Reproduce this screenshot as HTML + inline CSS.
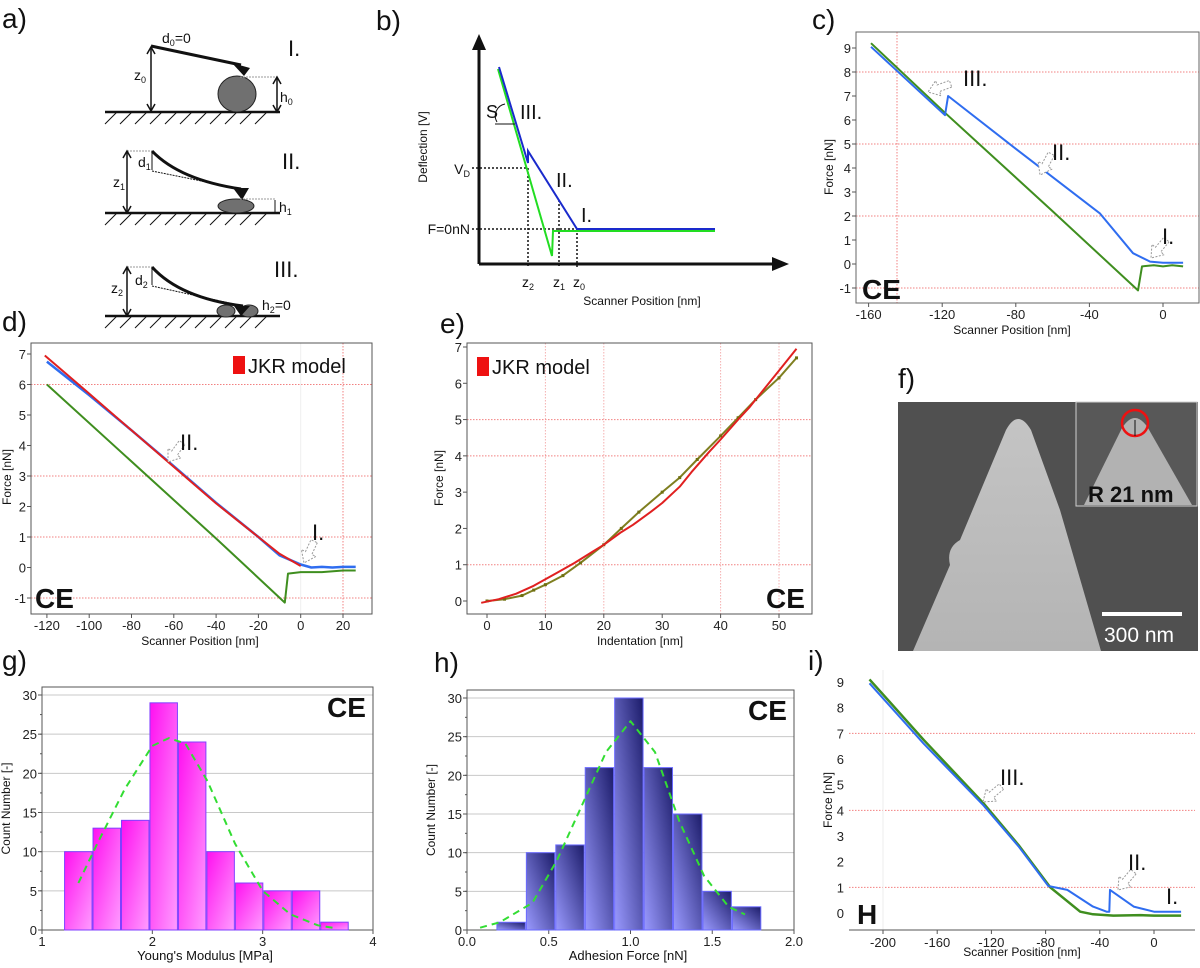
<!DOCTYPE html>
<html><head><meta charset="utf-8"><style>
html,body{margin:0;padding:0;background:#fff;}
svg{display:block;font-family:"Liberation Sans",Arial,sans-serif;}
</style></head><body>
<svg id="fig" width="1200" height="968" viewBox="0 0 1200 968" xmlns="http://www.w3.org/2000/svg">
<defs>
<linearGradient id="gMag" x1="0" y1="0" x2="1" y2="1"><stop offset="0" stop-color="#ff10f0"/><stop offset="1" stop-color="#ff9cff"/></linearGradient>
<linearGradient id="gBlu" x1="0" y1="1" x2="1" y2="0"><stop offset="0" stop-color="#9a9aff"/><stop offset="1" stop-color="#1c1c6a"/></linearGradient>
<linearGradient id="gSem" x1="0" y1="0" x2="0" y2="1"><stop offset="0" stop-color="#c4c4c4"/><stop offset="1" stop-color="#b4b4b4"/></linearGradient>
</defs>
<g font-size="28" fill="#111">
<text x="2" y="28">a)</text>
<text x="376" y="30">b)</text>
<text x="812" y="29">c)</text>
<text x="2" y="331">d)</text>
<text x="440" y="333">e)</text>
<text x="898" y="388">f)</text>
<text x="2" y="670">g)</text>
<text x="434" y="672">h)</text>
<text x="808" y="670">i)</text>
</g>

<!-- Panel a -->
<g id="panelA" stroke="#111" fill="none">
<g>
<line x1="105" y1="112" x2="280" y2="112" stroke-width="2.5"/>
<path d="M105,124 l12,-12 M120,124 l12,-12 M135,124 l12,-12 M150,124 l12,-12 M165,124 l12,-12 M180,124 l12,-12 M195,124 l12,-12 M210,124 l12,-12 M225,124 l12,-12 M240,124 l12,-12 M255,124 l12,-12" stroke-width="1"/>
<line x1="151" y1="46" x2="241" y2="65" stroke-width="3"/>
<polygon points="232,63 250,68 244,76" fill="#111" stroke="none"/>
<ellipse cx="237" cy="94" rx="19" ry="18" fill="#707070" stroke="#222" stroke-width="1"/>
<line x1="151" y1="48" x2="151" y2="110" stroke-width="1.5"/>
<path d="M147,54 L151,47 L155,54 M147,104 L151,111 L155,104" stroke-width="1.5"/>
<line x1="240" y1="77" x2="277" y2="77" stroke="#999" stroke-dasharray="2,1"/>
<line x1="277" y1="78" x2="277" y2="111" stroke-width="1.5"/>
<path d="M273,84 L277,77 L281,84 M273,105 L277,112 L281,105" stroke-width="1.5"/>
</g>
<g>
<line x1="105" y1="213" x2="280" y2="213" stroke-width="2.5"/>
<path d="M105,225 l12,-12 M120,225 l12,-12 M135,225 l12,-12 M150,225 l12,-12 M165,225 l12,-12 M180,225 l12,-12 M195,225 l12,-12 M210,225 l12,-12 M225,225 l12,-12 M240,225 l12,-12 M255,225 l12,-12" stroke-width="1"/>
<path d="M152,151 Q180,180 241,189" stroke-width="3"/>
<line x1="152" y1="171" x2="241" y2="189" stroke-dasharray="2,1" stroke-width="1"/>
<line x1="127" y1="151" x2="152" y2="151" stroke="#999" stroke-dasharray="2,1"/>
<polygon points="233,188 249,188 242,200" fill="#111" stroke="none"/>
<ellipse cx="236" cy="206" rx="18" ry="7" fill="#707070" stroke="#222" stroke-width="1"/>
<line x1="127" y1="152" x2="127" y2="212" stroke-width="1.5"/>
<path d="M123,158 L127,151 L131,158 M123,206 L127,213 L131,206" stroke-width="1.5"/>
<line x1="152" y1="152" x2="152" y2="170" stroke-width="1"/>
<line x1="240" y1="199" x2="275" y2="199" stroke="#999" stroke-dasharray="2,1"/>
<line x1="275" y1="200" x2="275" y2="212" stroke-width="1"/>
</g>
<g>
<line x1="105" y1="316" x2="280" y2="316" stroke-width="2.5"/>
<path d="M105,328 l12,-12 M120,328 l12,-12 M135,328 l12,-12 M150,328 l12,-12 M165,328 l12,-12 M180,328 l12,-12 M195,328 l12,-12 M210,328 l12,-12 M225,328 l12,-12 M240,328 l12,-12 M255,328 l12,-12" stroke-width="1"/>
<path d="M152,267 Q180,298 243,306" stroke-width="3"/>
<line x1="152" y1="286" x2="243" y2="306" stroke-dasharray="2,1" stroke-width="1"/>
<line x1="127" y1="267" x2="152" y2="267" stroke="#999" stroke-dasharray="2,1"/>
<ellipse cx="226" cy="311" rx="9" ry="6" fill="#707070" stroke="#222" stroke-width="1"/>
<ellipse cx="249" cy="311" rx="9" ry="6" fill="#707070" stroke="#222" stroke-width="1"/>
<polygon points="234,306 250,306 241,316" fill="#111" stroke="none"/>
<line x1="127" y1="268" x2="127" y2="315" stroke-width="1.5"/>
<path d="M123,274 L127,267 L131,274 M123,309 L127,316 L131,309" stroke-width="1.5"/>
<line x1="152" y1="268" x2="152" y2="285" stroke-width="1"/>
</g>
<g fill="#111" stroke="none" font-size="14">
<text x="162" y="43">d<tspan font-size="9" dy="3">0</tspan><tspan dy="-3">=0</tspan></text>
<text x="134" y="80">z<tspan font-size="9" dy="3">0</tspan></text>
<text x="280" y="102">h<tspan font-size="9" dy="3">0</tspan></text>
<text x="138" y="167">d<tspan font-size="9" dy="3">1</tspan></text>
<text x="113" y="187">z<tspan font-size="9" dy="3">1</tspan></text>
<text x="279" y="212">h<tspan font-size="9" dy="3">1</tspan></text>
<text x="135" y="285">d<tspan font-size="9" dy="3">2</tspan></text>
<text x="111" y="293">z<tspan font-size="9" dy="3">2</tspan></text>
<text x="262" y="310">h<tspan font-size="9" dy="3">2</tspan><tspan dy="-3">=0</tspan></text>
<text x="288" y="56" font-size="22">I.</text>
<text x="282" y="169" font-size="22">II.</text>
<text x="274" y="277" font-size="22">III.</text>
</g>
</g>

<!-- Panel b -->
<g id="panelB">
<line x1="479" y1="264" x2="479" y2="44" stroke="#111" stroke-width="3"/>
<polygon points="472,50 479,34 486,50" fill="#111"/>
<line x1="479" y1="264" x2="778" y2="264" stroke="#111" stroke-width="3"/>
<polygon points="772,257 789,264 772,271" fill="#111"/>
<g stroke="#111" stroke-width="1.5" stroke-dasharray="2,2" fill="none">
<line x1="472" y1="168" x2="528" y2="168"/><line x1="472" y1="229" x2="577" y2="229"/>
<line x1="528" y1="168" x2="528" y2="268"/><line x1="559" y1="200" x2="559" y2="268"/><line x1="577" y1="229" x2="577" y2="268"/>
</g>
<polyline points="498,69 552,256 553,231 715,231" fill="none" stroke="#22dd22" stroke-width="2"/>
<polyline points="499,67 528,163 528,151 577,229 715,229" fill="none" stroke="#1a2acc" stroke-width="2"/>
<path d="M505,104 A12,12 0 0 0 497,122 M495,124 L515,124" fill="none" stroke="#111" stroke-width="1"/>
<g fill="#111" font-size="14">
<text x="427" y="147" transform="rotate(-90 427 147)" text-anchor="middle" font-size="12">Deflection [V]</text>
<text x="642" y="305" text-anchor="middle" font-size="12">Scanner Position [nm]</text>
<text x="470" y="174" text-anchor="end">V<tspan font-size="9" dy="3">D</tspan></text>
<text x="470" y="234" text-anchor="end">F=0nN</text>
<text x="522" y="287">z<tspan font-size="9" dy="3">2</tspan></text>
<text x="553" y="287">z<tspan font-size="9" dy="3">1</tspan></text>
<text x="573" y="287">z<tspan font-size="9" dy="3">0</tspan></text>
<text x="486" y="118" font-size="18">S</text>
<text x="520" y="119" font-size="20">III.</text>
<text x="556" y="187" font-size="20">II.</text>
<text x="581" y="222" font-size="20">I.</text>
</g>
</g>

<!-- Panel f -->
<g id="panelF">
<rect x="898" y="402" width="300" height="249" fill="#505050"/>
<path d="M913,651 L950,565 Q946,548 960,540 L1006,430 Q1018,408 1031,430 L1060,510 L1101,651 Z" fill="url(#gSem)"/>
<rect x="1076" y="402" width="121" height="104" fill="#585858" stroke="#cfcfcf" stroke-width="1"/>
<path d="M1084,505 L1122,428 Q1135,408 1148,428 L1192,505 Z" fill="#b2b2b2"/>
<circle cx="1135" cy="423" r="13" fill="none" stroke="#ee1111" stroke-width="2.5"/>
<line x1="1135" y1="420" x2="1135" y2="436" stroke="#111" stroke-width="1"/>
<text x="1088" y="502" font-size="22" font-weight="bold" fill="#111">R 21 nm</text>
<rect x="1102" y="612" width="80" height="4" fill="#fff"/>
<text x="1104" y="642" font-size="21" fill="#fff">300 nm</text>
</g>

<g id="charts"></g>
</svg>
<script>
// ---------- data ----------
const cGreenX=[-158.7,-118.5,-60,-13.6,-11.4,-5,0,5,10.9];
const cGreenY=[9.2,6.3,2.2,-1.1,-0.1,-0.05,-0.1,-0.05,-0.1];
const cBlueX=[-158.7,-118.5,-116.8,-80,-34.2,-16.3,-7,0,5,10.9];
const cBlueY=[9.05,6.2,7.0,4.8,2.1,0.45,0.1,0.05,0.05,0.05];
const cTicksX=[-160,-120,-80,-40,0];
const cTicksY=[-1,0,1,2,3,4,5,6,7,8,9];

const dRedX=[-121,-100,-80,-60,-40,-20,-10,0];
const dRedY=[6.95,5.7,4.5,3.3,2.1,1.0,0.45,0.05];
const dBlueX=[-120,-100,-80,-60,-40,-20,-10,0,5,10,15,20,26];
const dBlueY=[6.75,5.65,4.5,3.32,2.12,1.0,0.4,0.1,0.0,0.02,0.0,0.02,0.02];
const dGreenX=[-120,-40,-7.5,-6,0,10,20,26];
const dGreenY=[6.0,0.95,-1.15,-0.2,-0.15,-0.15,-0.1,-0.1];
const dTicksX=[-120,-100,-80,-60,-40,-20,0,20];
const dTicksY=[-1,0,1,2,3,4,5,6,7];

const eFitX=[-1,2,5,8,10,12,15,18,20,23,25,28,30,33,35,38,40,43,45,48,50,53];
const eFitY=[-0.05,0.05,0.2,0.42,0.6,0.78,1.05,1.35,1.55,1.9,2.1,2.45,2.7,3.15,3.55,4.1,4.45,5.0,5.35,5.95,6.35,6.95];
const eDataX=[0,3,6,8,10,13,16,20,23,26,30,33,36,40,43,46,50,53];
const eDataY=[0,0.05,0.15,0.3,0.45,0.7,1.05,1.55,2.0,2.45,3.0,3.4,3.9,4.55,5.05,5.55,6.15,6.7];
const eTicksX=[0,10,20,30,40,50];
const eTicksY=[0,1,2,3,4,5,6,7];

const gEdges=[1.2,1.458,1.716,1.974,2.232,2.49,2.748,3.006,3.264,3.522,3.78];
const gCounts=[10,13,14,29,24,10,6,5,5,1];
const gFitX=[1.33,1.5,1.75,2.0,2.15,2.3,2.5,2.75,3.0,3.25,3.5,3.67];
const gFitY=[6,11,18,23.5,24.5,23.8,19,11,5,2,0.6,0.2];
const gTicksX=[1,2,3,4];
const gTicksY=[0,5,10,15,20,25,30];

const hEdges=[0.18,0.36,0.54,0.72,0.9,1.08,1.26,1.44,1.62,1.8];
const hCounts=[1,10,11,21,30,21,15,5,3];
const hFitX=[0.08,0.2,0.4,0.55,0.7,0.85,1.0,1.15,1.3,1.45,1.6,1.7];
const hFitY=[0.3,1,3.5,9,16,23,27,23,14,7,3,2];
const hTicksX=[0.0,0.5,1.0,1.5,2.0];
const hTicksY=[0,5,10,15,20,25,30];

const iGreenX=[-210,-170,-126,-100,-76.6,-54.5,-45,-30,-10,0,20];
const iGreenY=[9.1,6.75,4.28,2.65,1.0,0.05,-0.05,-0.1,-0.08,-0.1,-0.1];
const iBlueX=[-210,-170,-126,-100,-78,-64,-45,-35,-33,-32.5,-15,0,20];
const iBlueY=[8.95,6.6,4.2,2.6,1.05,0.9,0.25,0.05,0.05,0.9,0.25,0.05,0.05];
const iTicksX=[-200,-160,-120,-80,-40,0];
const iTicksY=[0,1,2,3,4,5,6,7,8,9];

// ---------- helpers ----------
const NS="http://www.w3.org/2000/svg";
const root=document.getElementById('charts');
function mk(parent,tag,attrs,txt){const e=document.createElementNS(NS,tag);for(const k in attrs)e.setAttribute(k,attrs[k]);if(txt!==undefined)e.textContent=txt;parent.appendChild(e);return e;}
function lin(d0,d1,r0,r1){return v=>r0+(v-d0)*(r1-r0)/(d1-d0);}
function pts(xs,ys,sx,sy){return xs.map((x,i)=>sx(x).toFixed(1)+','+sy(ys[i]).toFixed(1)).join(' ');}

function frame(g,name,L,T,R,B,sx,sy,tx,ty,opt){
  const box=mk(g,'rect',{x:L,y:T,width:R-L,height:B-T,fill:'none',stroke:opt.box||'#555','stroke-width':1});
  
  
  tx.forEach(v=>{
    const t=mk(g,'text',{x:sx(v),y:B+16,'text-anchor':'middle','font-size':13,fill:'#222'},String(opt.fx?opt.fx(v):v));
    
    
    mk(g,'line',{x1:sx(v),x2:sx(v),y1:B,y2:B+4,stroke:'#555'});
  });
  ty.forEach(v=>{
    const t=mk(g,'text',{x:L-5,y:sy(v)+5,'text-anchor':'end','font-size':13,fill:'#222'},String(v));
    
    
    mk(g,'line',{x1:L-4,x2:L,y1:sy(v),y2:sy(v),stroke:'#555'});
  });
}
function hgrid(g,vals,sy,L,R,col,dash){vals.forEach(v=>mk(g,'line',{x1:L,x2:R,y1:sy(v),y2:sy(v),stroke:col,'stroke-width':1,'stroke-dasharray':dash}));}
function vgrid(g,x,T,B,col,dash){mk(g,'line',{x1:x,x2:x,y1:T,y2:B,stroke:col,'stroke-width':1,'stroke-dasharray':dash});}
function txt(g,name,x,y,s,size,extra){const a=Object.assign({x:x,y:y,'font-size':size,fill:'#111'},extra||{});const t=mk(g,'text',a,s);return t;}
function callout(g,name,tx,ty,ang){
  const p=mk(g,'polygon',{points:'-24,-3.5 -11,-3.5 -11,-8 0,0 -11,8 -11,3.5 -24,3.5',fill:'#fff',stroke:'#999','stroke-width':1,'stroke-dasharray':'2,1.5',transform:`translate(${tx},${ty}) rotate(${ang})`});
  
  
}
function line(g,name,xs,ys,sx,sy,col,w){const p=mk(g,'polyline',{points:pts(xs,ys,sx,sy),fill:'none',stroke:col,'stroke-width':w,'stroke-linejoin':'round'});return p;}
const RED='#f28080', DASH='1.5,1.5';
const BLUE='#2f6df0', GREEN='#3f8e1f';

// ---------- panel c ----------
(function(){
  const g=mk(root,'g',{});
  
  
  const L=856,R=1199,T=32,B=303;
  const sx=lin(0,40,1163,1236.6), sy=lin(0,1,264,240);
  hgrid(g,[8,5,2,-1],sy,L,R,RED,DASH);
  vgrid(g,897,T,B,RED,DASH);
  frame(g,'c',L,T,R,B,sx,sy,cTicksX,cTicksY,{box:'#666'});
  line(g,'c-retract-curve',cGreenX,cGreenY,sx,sy,GREEN,2);
  line(g,'c-approach-curve',cBlueX,cBlueY,sx,sy,BLUE,2);
  callout(g,'c-arrow-3',928,92,160);
  callout(g,'c-arrow-2',1040,175,118);
  callout(g,'c-arrow-1',1151,258,130);
  txt(g,'c-stage-3',963,86,'III.',22);
  txt(g,'c-stage-2',1052,160,'II.',22);
  txt(g,'c-stage-1',1162,244,'I.',22);
  txt(g,'c-ce-label',862,299,'CE',28,{'font-weight':'bold'});
  txt(g,'c-y-axis-title',833,167,'Force [nN]',12,{transform:'rotate(-90 833 167)','text-anchor':'middle'});
  txt(g,'c-x-axis-title',1012,334,'Scanner Position [nm]',12,{'text-anchor':'middle'});
})();

// ---------- panel d ----------
(function(){
  const g=mk(root,'g',{});
  
  
  const L=31,R=372,T=343,B=614;
  const sx=lin(0,20,300.7,343), sy=lin(0,7,567.5,354);
  hgrid(g,[6,3,1,-1],sy,L,R,RED,DASH);
  vgrid(g,sx(20),T,B,RED,DASH);
  vgrid(g,sx(0),T,B,'#eee','');
  frame(g,'d',L,T,R,B,sx,sy,dTicksX,dTicksY,{});
  line(g,'d-retract-curve',dGreenX,dGreenY,sx,sy,GREEN,2);
  line(g,'d-approach-curve',dBlueX,dBlueY,sx,sy,BLUE,2.5);
  line(g,'d-jkr-fit',dRedX,dRedY,sx,sy,'#e02020',2);
  const lg=mk(g,'rect',{x:233,y:356,width:12,height:18,fill:'#ee1111'});
  
  
  txt(g,'d-legend-text',248,373,'JKR model',20);
  callout(g,'d-arrow-2',168,462,126);
  callout(g,'d-arrow-1',304,563,115);
  txt(g,'d-stage-2',180,450,'II.',22);
  txt(g,'d-stage-1',312,540,'I.',22);
  txt(g,'d-ce-label',35,608,'CE',28,{'font-weight':'bold'});
  txt(g,'d-y-axis-title',11,477,'Force [nN]',12,{transform:'rotate(-90 11 477)','text-anchor':'middle'});
  txt(g,'d-x-axis-title',200,645,'Scanner Position [nm]',12,{'text-anchor':'middle'});
})();

// ---------- panel e ----------
(function(){
  const g=mk(root,'g',{});
  
  
  const L=467,R=812,T=343,B=614;
  const sx=lin(0,50,487,779), sy=lin(0,7,601,347);
  hgrid(g,[1,4,5],sy,L,R,RED,DASH);
  [10,20,40,50].forEach(v=>vgrid(g,sx(v),T,B,'#f4b0b0',DASH));
  frame(g,'e',L,T,R,B,sx,sy,eTicksX,eTicksY,{});
  line(g,'e-data-line',eDataX,eDataY,sx,sy,'#7f7f20',2);
  eDataX.forEach((x,i)=>{
    const c=mk(g,'rect',{x:sx(x)-1.5,y:sy(eDataY[i])-1.5,width:3,height:3,fill:'#6f6f10'});
    
    
  });
  line(g,'e-jkr-fit',eFitX,eFitY,sx,sy,'#e02020',2);
  const lg=mk(g,'rect',{x:477,y:357,width:12,height:19,fill:'#ee1111'});
  
  
  txt(g,'e-legend-text',492,374,'JKR model',20);
  txt(g,'e-ce-label',766,608,'CE',28,{'font-weight':'bold'});
  txt(g,'e-y-axis-title',443,478,'Force [nN]',12,{transform:'rotate(-90 443 478)','text-anchor':'middle'});
  txt(g,'e-x-axis-title',640,645,'Indentation [nm]',12,{'text-anchor':'middle'});
})();

// ---------- histograms ----------
function hist(name,L,R,T,B,sx,sy,edges,counts,fx,fy,tx,ty,fill,stroke,fmt,xt,cx,yt){
  const g=mk(root,'g',{});
  
  
  hgrid(g,ty.filter(v=>v>0),sy,L,R,'#c8c8c8','');
  frame(g,name,L,T,R,B,sx,sy,tx,ty,{fx:fmt,box:'#555'});
  for(let v=0;v<=30;v+=2.5){mk(g,'line',{x1:L-2,x2:L,y1:sy(v),y2:sy(v),stroke:'#555'});}
  counts.forEach((c,i)=>{
    const r=mk(g,'rect',{x:sx(edges[i])+0.5,y:sy(c),width:sx(edges[i+1])-sx(edges[i])-1,height:sy(0)-sy(c),fill:fill,stroke:stroke,'stroke-width':1});
    
    
  });
  const p=line(g,name+'-gauss-fit',fx,fy,sx,sy,'#33dd33',2);
  p.setAttribute('stroke-dasharray','7,5');
  txt(g,name+'-ce-label',R-46,T+30,'CE',28,{'font-weight':'bold'});
  txt(g,name+'-x-axis-title',cx,B+30,xt,13,{'text-anchor':'middle'});
  txt(g,name+'-y-axis-title',yt,(T+B)/2,'Count Number [-]',12,{transform:`rotate(-90 ${yt} ${(T+B)/2})`,'text-anchor':'middle'});
}
hist('g',42,373,687,930,lin(1,4,42,373),lin(0,30,930,695),gEdges,gCounts,gFitX,gFitY,gTicksX,gTicksY,'url(#gMag)','#8040ff',v=>v,"Young's Modulus [MPa]",205,10);
hist('h',467,794,690,930,lin(0,2,467,794),lin(0,30,930,698),hEdges,hCounts,hFitX,hFitY,hTicksX,hTicksY,'url(#gBlu)','#6a6aff',v=>v.toFixed(1),'Adhesion Force [nN]',628,435);

// ---------- panel i ----------
(function(){
  const g=mk(root,'g',{});
  
  
  const L=849,R=1195,B=930;
  const sx=lin(0,-200,1154,883), sy=lin(0,9,913,682);
  hgrid(g,[7,4,1],sy,L,R,RED,DASH);
  vgrid(g,883,670,B,'#eeeeee','');
  const ax=mk(g,'line',{x1:L,x2:R,y1:B,y2:B,stroke:'#555'});
  
  
  iTicksX.forEach(v=>{
    const t=mk(g,'text',{x:sx(v),y:B+17,'text-anchor':'middle','font-size':13,fill:'#222'},String(v));
    
    
    mk(g,'line',{x1:sx(v),x2:sx(v),y1:B,y2:B+4,stroke:'#555'});
  });
  iTicksY.forEach(v=>{
    const t=mk(g,'text',{x:L-5,y:sy(v)+5,'text-anchor':'end','font-size':13,fill:'#222'},String(v));
    
    
  });
  line(g,'i-retract-curve',iGreenX,iGreenY,sx,sy,GREEN,2.5);
  line(g,'i-approach-curve',iBlueX,iBlueY,sx,sy,BLUE,2);
  callout(g,'i-arrow-3',983,802,140);
  callout(g,'i-arrow-2',1118,890,130);
  txt(g,'i-stage-3',1000,785,'III.',22);
  txt(g,'i-stage-2',1128,870,'II.',22);
  txt(g,'i-stage-1',1166,904,'I.',22);
  txt(g,'i-h-label',857,924,'H',28,{'font-weight':'bold'});
  txt(g,'i-y-axis-title',832,800,'Force [nN]',12,{transform:'rotate(-90 832 800)','text-anchor':'middle'});
  txt(g,'i-x-axis-title',1022,956,'Scanner Position [nm]',12,{'text-anchor':'middle'});
})();
</script>
</body></html>
